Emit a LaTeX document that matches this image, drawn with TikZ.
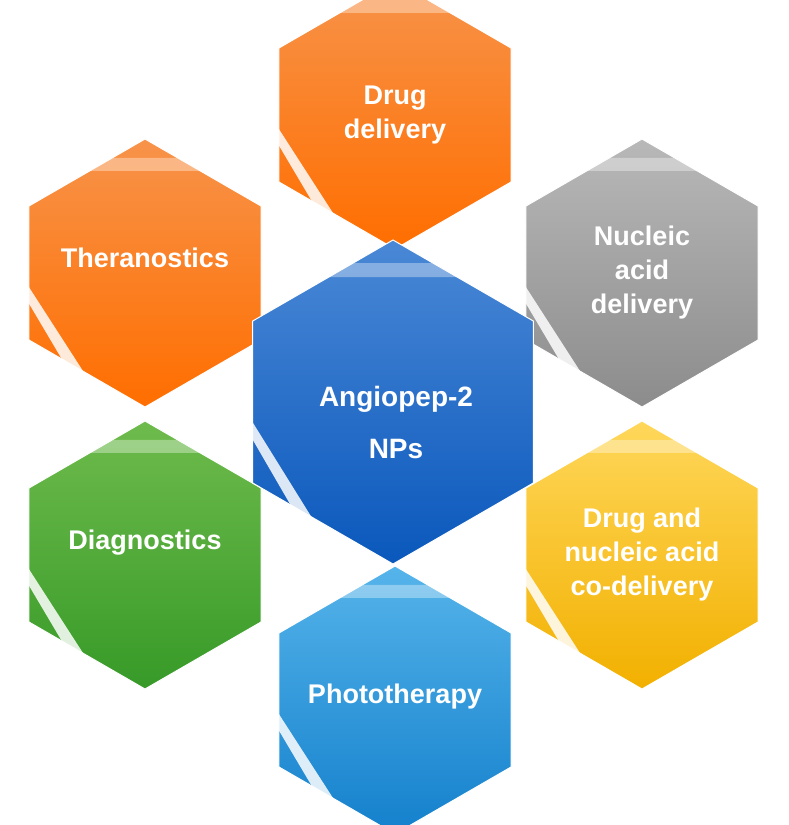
\documentclass[tikz,border=0pt]{standalone}
\usepackage{fontspec}
\setmainfont{Liberation Sans}
\usetikzlibrary{shapes.geometric}
\tikzset{
  hexbox/.style={regular polygon, regular polygon sides=6, shape border rotate=30, inner sep=0pt, draw=white, line width=1pt},
  hextext/.style={text=white, font=\bfseries\fontsize{27}{34}\selectfont, align=center},
}
\newcommand{\hexa}[8]{%
  \node[hexbox, minimum size={2*#4}, top color=#5, bottom color=#6] (#1) at (#2,#3) {};
  \fill[white, opacity=0.85] ({#2-#4+1},{#3+2}) -- ({#2-#4/2+1},{#3+0.866*#4-1}) -- ({#2-#4/2+16},{#3+0.866*#4-1}) -- ({#2-#4+14},{#3+8}) -- cycle;
  \fill[white, opacity=0.35] ({#2-#4/2+2},{#3-0.866*#4+1}) -- ({#2+#4/2-2},{#3-0.866*#4+1}) -- ({#2+#4/2-10},{#3-0.866*#4+14}) -- ({#2-#4/2+10},{#3-0.866*#4+14}) -- cycle;
  \node[hextext] (#1t) at (#2,{#3+#8}) {#7};
}
\begin{document}
\begin{tikzpicture}[x=1pt,y=-1pt]
\useasboundingbox (0,0) rectangle (789,825);
\definecolor{orT}{HTML}{F7934A}\definecolor{orB}{HTML}{FF6E00}
\definecolor{grT}{HTML}{B8B8B8}\definecolor{grB}{HTML}{8C8C8C}
\definecolor{blT}{HTML}{4A88D6}\definecolor{blB}{HTML}{0A58BC}
\definecolor{yeT}{HTML}{FFD75A}\definecolor{yeB}{HTML}{F2B000}
\definecolor{gnT}{HTML}{6EBB4C}\definecolor{gnB}{HTML}{379A28}
\definecolor{lbT}{HTML}{55B4EA}\definecolor{lbB}{HTML}{1480CC}
\hexa{dd}{395}{115}{134}{orT}{orB}{Drug\\delivery}{0}
\hexa{th}{145}{273}{134}{orT}{orB}{Theranostics}{-15}
\hexa{na}{642}{273}{134}{grT}{grB}{Nucleic\\acid\\delivery}{0}
\hexa{di}{145}{555}{134}{gnT}{gnB}{Diagnostics}{-12}
\hexa{co}{642}{555}{134}{yeT}{yeB}{Drug and\\nucleic acid\\co-delivery}{0}
\hexa{ph}{395}{700}{134}{lbT}{lbB}{Phototherapy}{-3}
\node[hexbox, minimum size=324, top color=blT, bottom color=blB] (ctr) at (393,402) {};
\fill[white, opacity=0.85] (232,404) -- (312,542) -- (327,542) -- (245,410) -- cycle;
\fill[white, opacity=0.35] (314,263) -- (474,263) -- (466,277) -- (322,277) -- cycle;
\node[hextext, font=\bfseries\fontsize{28}{52}\selectfont] (ctrt) at (396,422) {Angiopep-2\\NPs};
\end{tikzpicture}
\end{document}
